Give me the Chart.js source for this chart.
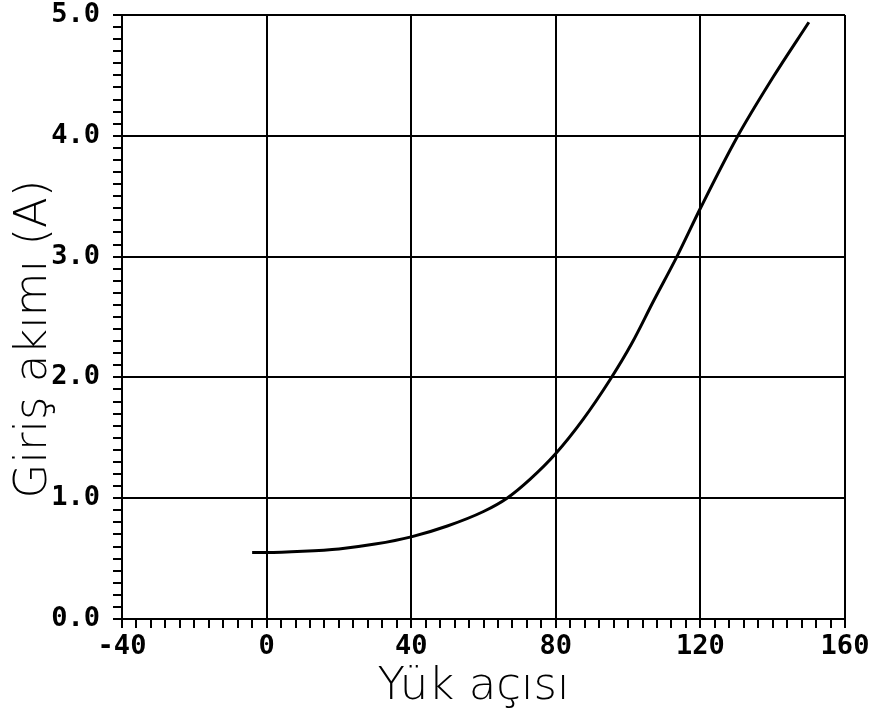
<!DOCTYPE html>
<html>
<head>
<meta charset="utf-8">
<script src="https://cdn.jsdelivr.net/npm/chart.js@4"></script>
<style>
  body { margin: 0; background: #fff; }
  #wrap { width: 884px; height: 714px; }
</style>
</head>
<body>
<div id="wrap"><canvas id="myChart" width="884" height="714"></canvas></div>
<script>
// Yük açısı (derece) vs Giriş akımı (A)
const loadAngle = [-4, 0, 10, 20, 30, 40, 50, 60, 66.5, 73, 80, 87.5, 95, 101, 107, 113.5, 120, 130, 140, 150];
const inputCurrent = [0.55, 0.55, 0.56, 0.58, 0.62, 0.68, 0.77, 0.89, 1.00, 1.16, 1.37, 1.65, 1.98, 2.28, 2.63, 3.00, 3.40, 3.98, 4.48, 4.94];

const xMin = -40, xMax = 160, xMajor = 40, xMinor = 4;
const yMin = 0, yMax = 5, yMajor = 1, yMinor = 0.1;

let points = [];
for (let i = 0; i < loadAngle.length; i++) {
  points.push({ x: loadAngle[i], y: inputCurrent[i] });
}

function isMajor(v, step) {
  let r = v / step;
  return Math.abs(r - Math.round(r)) < 1e-6;
}

// the axis titles in the scan sit a little off-centre, nudge them
const titleShift = {
  id: 'titleShift',
  beforeDraw(chart) {
    let moves = { x: [-10, 0], y: [0, 22] };
    for (let id in moves) {
      let s = chart.scales[id];
      if (s._origDrawTitle) continue;
      s._origDrawTitle = s.drawTitle;
      s.drawTitle = function() {
        this.ctx.save();
        this.ctx.translate(moves[id][0], moves[id][1]);
        this._origDrawTitle();
        this.ctx.restore();
      };
    }
  }
};

let canvasEl = document.getElementById("myChart").getContext('2d');
let tickFont = { family: 'DejaVu Sans Mono', size: 27, weight: 'bold', lineHeight: 1 };
let titleFont = { family: 'DejaVu Sans', size: 45, weight: 200, lineHeight: 1 };

var myChart = new Chart(canvasEl, {
  type: 'scatter',
  data: {
    datasets: [{
      label: 'Giriş akımı',
      data: points,
      showLine: true,
      borderColor: '#000',
      borderWidth: 3,
      pointRadius: 0,
      cubicInterpolationMode: 'monotone'
    }]
  },
  plugins: [titleShift],
  options: {
    responsive: false,
    animation: false,
    layout: { padding: { left: 0, right: 39, top: 0, bottom: 4 } },
    plugins: { legend: { display: false }, tooltip: { enabled: false } },
    scales: {
      x: {
        type: 'linear',
        min: xMin,
        max: xMax,
        ticks: {
          stepSize: xMinor,
          autoSkip: false,
          maxTicksLimit: 200,
          maxRotation: 0,
          padding: 5,
          color: '#000',
          font: tickFont,
          callback: function(v) { return isMajor(v, xMajor) ? String(v) : ''; }
        },
        grid: {
          color: function(ctx) { return ctx.tick && isMajor(ctx.tick.value, xMajor) ? '#000' : 'rgba(0,0,0,0)'; },
          tickColor: '#000',
          lineWidth: 2,
          tickLength: 9
        },
        border: { display: true, color: '#000', width: 2 },
        title: {
          display: true,
          text: 'Yük açısı',
          color: '#000',
          font: titleFont,
          padding: { top: 0, bottom: 0 }
        }
      },
      y: {
        type: 'linear',
        min: yMin,
        max: yMax,
        afterFit: function(scale) {
          scale.width = 122;
          scale.paddingTop = 15;
          scale.paddingBottom = 0;
        },
        ticks: {
          stepSize: yMinor,
          autoSkip: false,
          maxTicksLimit: 200,
          padding: 13,
          color: '#000',
          font: tickFont,
          callback: function(v) { return isMajor(v, yMajor) ? v.toFixed(1) : ''; }
        },
        grid: {
          color: function(ctx) { return ctx.tick && isMajor(ctx.tick.value, yMajor) ? '#000' : 'rgba(0,0,0,0)'; },
          tickColor: '#000',
          lineWidth: 2,
          tickLength: 9
        },
        border: { display: true, color: '#000', width: 2 },
        title: {
          display: true,
          text: 'Giriş akımı (A)',
          color: '#000',
          font: titleFont,
          padding: { top: 12, bottom: 0 }
        }
      }
    }
  }
});
</script>
</body>
</html>
